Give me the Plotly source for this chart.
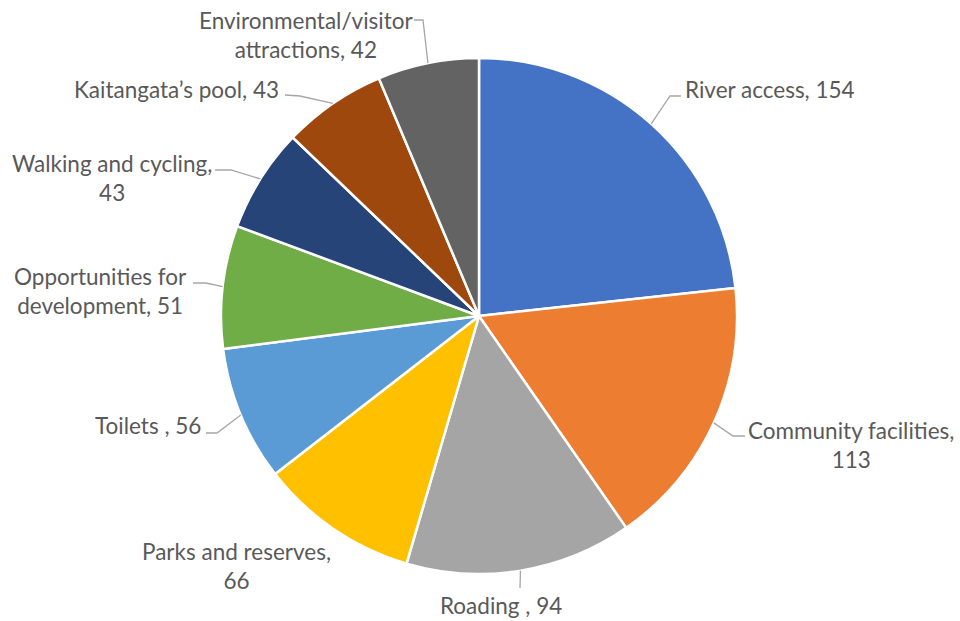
import math
import plotly.graph_objects as go

# ---- data ----
categories = [
    "River access", "Community facilities", "Roading", "Parks and reserves",
    "Toilets", "Opportunities for development", "Walking and cycling",
    "Kaitangata\u2019s pool", "Environmental/visitor attractions",
]
values = [154, 113, 94, 66, 56, 51, 43, 43, 42]
label_texts = [
    "River access, 154",
    "Community facilities,<br>113",
    "Roading , 94",
    "Parks and reserves,<br>66",
    "Toilets , 56",
    "Opportunities for<br>development, 51",
    "Walking and cycling,<br>43",
    "Kaitangata\u2019s pool, 43",
    "Environmental/visitor<br>attractions, 42",
]
colors = ["#4472C4", "#ED7D31", "#A5A5A5", "#FFC000", "#5B9BD5",
          "#70AD47", "#264478", "#9E480E", "#636363"]

# ---- layout (pixels) ----
W, H = 960, 621
CX, CY, R = 479, 316, 258

def px(x):
    return x / W

def py(y):
    return 1 - y / H

# label placement: (x, y, xanchor) in pixels
label_pos = [
    (683, 90, "left"),
    (851, 445, "center"),
    (501, 605, "center"),
    (236, 566, "center"),
    (203, 425, "right"),
    (100, 291, "center"),
    (112, 178, "center"),
    (281, 90, "right"),
    (306, 35, "center"),
]
# leader line: (end_x, end_y, elbow_x, elbow_y) or None
leaders = [
    (681, 96, 670, 96),
    (745, 436, 733, 436),
    (520, 588, 520, 588),
    None,
    (206, 433, 217, 433),
    (193, 283, 206, 283),
    (215, 170, 231, 170),
    (285, 95, 300, 96),
    (414, 20, 423, 20),
]

fig = go.Figure(go.Pie(
    labels=categories,
    values=values,
    sort=False,
    direction="clockwise",
    rotation=0,
    marker=dict(colors=colors, line=dict(color="white", width=2.5)),
    textinfo="none",
    hoverinfo="label+value",
    domain=dict(x=[px(CX - R), px(CX + R)], y=[py(CY + R), py(CY - R)]),
    showlegend=False,
))

total = sum(values)
cum = 0
shapes = []
annotations = []
for i, v in enumerate(values):
    mid = (cum + v / 2) / total * 2 * math.pi
    cum += v
    rx = CX + R * math.sin(mid)
    ry = CY - R * math.cos(mid)
    if leaders[i] is not None:
        ex, ey, bx, by = leaders[i]
        path = f"M {px(rx)},{py(ry)} L {px(bx)},{py(by)} L {px(ex)},{py(ey)}"
        shapes.append(dict(type="path", xref="paper", yref="paper", path=path,
                           line=dict(color="#A6A6A6", width=1.3)))
    lx, ly, anc = label_pos[i]
    annotations.append(dict(
        x=px(lx), y=py(ly), xref="paper", yref="paper",
        text=label_texts[i], showarrow=False,
        xanchor=anc, yanchor="middle", align="center",
        font=dict(family="Lato, 'Liberation Sans', sans-serif", size=22.5, color="#595959"),
    ))

fig.update_layout(
    width=W, height=H,
    margin=dict(l=0, r=0, t=0, b=0),
    paper_bgcolor="white",
    plot_bgcolor="white",
    shapes=shapes,
    annotations=annotations,
)

fig.write_html("out.html",
               config={"displayModeBar": False},
               post_script="document.body.style.margin='0';document.body.style.overflow='hidden';")
